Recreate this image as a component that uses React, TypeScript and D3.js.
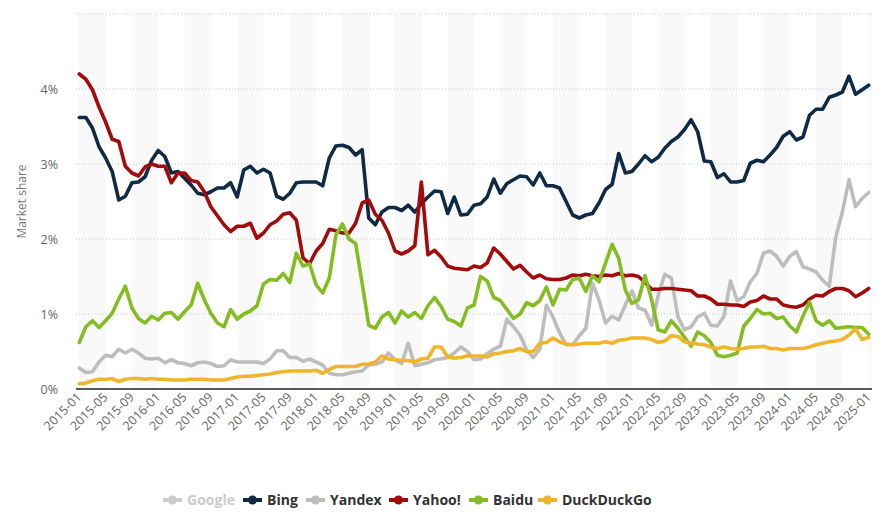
import React from "react";
import * as d3 from "d3";

const months: string[] = d3
  .timeMonth.range(new Date(2015, 0, 1), new Date(2025, 1, 1))
  .map((d) => d3.timeFormat("%Y-%m")(d));

const tickLabels: string[] = months.filter((_, i) => i % 4 === 0);
const yTicks: number[] = [0, 1, 2, 3, 4];
const yGrid: number[] = [1, 2, 3, 4, 5];

const bing: number[] = [
  3.62, 3.62, 3.48, 3.23, 3.08, 2.9, 2.52, 2.57, 2.75, 2.76, 2.83, 3.05, 3.18, 3.1, 2.88, 2.9,
  2.81, 2.72, 2.61, 2.59, 2.63, 2.68, 2.68, 2.75, 2.56, 2.92, 2.97, 2.88, 2.93, 2.88, 2.57, 2.53,
  2.61, 2.75, 2.76, 2.76, 2.76, 2.71, 3.08, 3.24, 3.25, 3.22, 3.12, 3.19, 2.28, 2.19, 2.36, 2.42,
  2.42, 2.38, 2.45, 2.36, 2.47, 2.56, 2.64, 2.63, 2.34, 2.56, 2.32, 2.33, 2.45, 2.47, 2.56, 2.8,
  2.61, 2.74, 2.79, 2.84, 2.83, 2.72, 2.88, 2.71, 2.71, 2.68, 2.5, 2.32, 2.28, 2.32, 2.34, 2.48,
  2.66, 2.73, 3.14, 2.88, 2.9, 3.0, 3.11, 3.03, 3.09, 3.21, 3.3, 3.36, 3.46, 3.59, 3.43, 3.04,
  3.03, 2.82, 2.87, 2.76, 2.76, 2.78, 3.01, 3.05, 3.03, 3.12, 3.22, 3.37, 3.43, 3.32, 3.36, 3.65,
  3.73, 3.73, 3.89, 3.92, 3.96, 4.17, 3.93, 3.99, 4.05,
];

const yandex: number[] = [
  0.28, 0.22, 0.23, 0.36, 0.45, 0.43, 0.53, 0.48, 0.53, 0.48, 0.41, 0.4, 0.41, 0.35, 0.39, 0.35,
  0.34, 0.31, 0.35, 0.36, 0.34, 0.3, 0.31, 0.39, 0.36, 0.36, 0.36, 0.36, 0.34, 0.4, 0.51, 0.51,
  0.42, 0.42, 0.37, 0.4, 0.36, 0.32, 0.21, 0.19, 0.19, 0.21, 0.23, 0.24, 0.32, 0.33, 0.36, 0.48,
  0.39, 0.34, 0.61, 0.31, 0.33, 0.35, 0.39, 0.4, 0.42, 0.48, 0.56, 0.5, 0.39, 0.4, 0.47, 0.53,
  0.57, 0.93, 0.83, 0.72, 0.52, 0.42, 0.53, 1.12, 0.96, 0.75, 0.59, 0.59, 0.71, 0.81, 1.41, 1.19,
  0.88, 0.97, 0.92, 1.12, 1.31, 1.08, 1.05, 0.85, 1.25, 1.53, 1.48, 0.96, 0.79, 0.83, 0.96, 1.01,
  0.85, 0.84, 0.97, 1.44, 1.18, 1.23, 1.43, 1.54, 1.81, 1.84, 1.77, 1.64, 1.77, 1.83, 1.63, 1.6,
  1.56, 1.45, 1.37, 2.03, 2.36, 2.79, 2.43, 2.54, 2.62,
];

const yahoo: number[] = [
  4.2, 4.13, 3.99, 3.76, 3.56, 3.33, 3.3, 2.97, 2.88, 2.84, 2.96, 3.0, 2.97, 2.97, 2.75, 2.88,
  2.88, 2.78, 2.76, 2.63, 2.43, 2.31, 2.19, 2.1, 2.17, 2.17, 2.21, 2.01, 2.08, 2.19, 2.24, 2.33,
  2.35, 2.25, 1.75, 1.67, 1.84, 1.94, 2.13, 2.11, 2.08, 2.08, 2.21, 2.48, 2.52, 2.33, 2.25, 2.08,
  1.84, 1.8, 1.84, 1.91, 2.76, 1.79, 1.85, 1.76, 1.64, 1.61, 1.6, 1.59, 1.64, 1.62, 1.68, 1.88,
  1.8, 1.7, 1.6, 1.65, 1.56, 1.48, 1.52, 1.47, 1.46, 1.46, 1.48, 1.52, 1.51, 1.53, 1.51, 1.5,
  1.52, 1.51, 1.54, 1.51, 1.52, 1.5, 1.42, 1.33, 1.33, 1.34, 1.34, 1.33, 1.32, 1.31, 1.24, 1.24,
  1.2, 1.13, 1.13, 1.12, 1.12, 1.1, 1.16, 1.18, 1.24, 1.2, 1.2, 1.12, 1.1, 1.09, 1.12, 1.2,
  1.25, 1.24, 1.3, 1.34, 1.34, 1.31, 1.23, 1.28, 1.34,
];

const baidu: number[] = [
  0.62, 0.83, 0.91, 0.82, 0.91, 1.01, 1.2, 1.37, 1.08, 0.94, 0.88, 0.97, 0.92, 1.01, 1.02, 0.93,
  1.03, 1.12, 1.41, 1.19, 1.01, 0.88, 0.83, 1.06, 0.93, 1.0, 1.04, 1.11, 1.4, 1.46, 1.45, 1.54,
  1.42, 1.81, 1.64, 1.67, 1.39, 1.28, 1.48, 2.05, 2.2, 2.0, 1.94, 1.41, 0.85, 0.81, 0.96, 1.02,
  0.88, 1.04, 0.96, 1.02, 0.94, 1.11, 1.22, 1.1, 0.93, 0.9, 0.84, 1.08, 1.12, 1.5, 1.44, 1.22,
  1.18, 1.06, 0.94, 1.0, 1.15, 1.11, 1.18, 1.36, 1.12, 1.33, 1.32, 1.46, 1.48, 1.3, 1.51, 1.43,
  1.68, 1.93, 1.74, 1.32, 1.14, 1.19, 1.51, 1.19, 0.79, 0.76, 0.91, 0.81, 0.69, 0.57, 0.76, 0.71,
  0.62, 0.45, 0.43, 0.45, 0.48, 0.84, 0.94, 1.06, 1.0, 1.01, 0.94, 0.96, 0.84, 0.76, 0.97, 1.16,
  0.91, 0.85, 0.91, 0.81, 0.82, 0.83, 0.82, 0.82, 0.73,
];

const duckduckgo: number[] = [
  0.07, 0.08, 0.11, 0.13, 0.13, 0.14, 0.1, 0.13, 0.14, 0.14, 0.13, 0.14, 0.13, 0.13, 0.12, 0.12,
  0.12, 0.13, 0.13, 0.13, 0.12, 0.12, 0.12, 0.14, 0.16, 0.17, 0.17, 0.18, 0.19, 0.2, 0.22, 0.23,
  0.24, 0.24, 0.24, 0.24, 0.25, 0.21, 0.26, 0.3, 0.3, 0.3, 0.3, 0.33, 0.33, 0.36, 0.44, 0.4,
  0.39, 0.38, 0.38, 0.36, 0.4, 0.41, 0.56, 0.56, 0.43, 0.41, 0.42, 0.44, 0.44, 0.44, 0.43, 0.47,
  0.48, 0.5, 0.51, 0.54, 0.5, 0.5, 0.61, 0.62, 0.68, 0.63, 0.6, 0.59, 0.6, 0.61, 0.61, 0.61,
  0.63, 0.61, 0.65, 0.66, 0.68, 0.68, 0.68, 0.66, 0.62, 0.64, 0.71, 0.7, 0.63, 0.61, 0.6, 0.59,
  0.56, 0.54, 0.56, 0.54, 0.53, 0.54, 0.56, 0.56, 0.57, 0.54, 0.54, 0.52, 0.54, 0.54, 0.54, 0.56,
  0.59, 0.61, 0.63, 0.64, 0.66, 0.72, 0.8, 0.66, 0.69,
];

const seriesNames: string[] = ["Google", "Bing", "Yandex", "Yahoo!", "Baidu", "DuckDuckGo"];
const seriesColors: string[] = ["#cccccc", "#0f2a44", "#bdbdbd", "#a30b0b", "#84bd22", "#f0b52a"];
const seriesData: (number[] | null)[] = [null, bing, yandex, yahoo, baidu, duckduckgo];
const seriesVisible: boolean[] = [false, true, true, true, true, true];

const W = 883;
const H = 520;
const left = 76;
const right = 872;
const top = 14;
const bottom = 389;
const FONT = "'Open Sans', 'DejaVu Sans', sans-serif";

export default function App() {
  const x = d3.scalePoint<string>().domain(months).range([left, right]).padding(0.5);
  const y = d3.scaleLinear().domain([0, 5]).range([bottom, top]);
  const line = d3
    .line<number>()
    .x((_, i) => x(months[i]) as number)
    .y((v) => y(v))
    .curve(d3.curveLinear);

  const bands: { x0: number; x1: number }[] = [];
  for (let i = 0; i < months.length; i += 8) {
    const x0 = x(months[i]) as number;
    const j = Math.min(i + 4, months.length - 1);
    const x1 = i + 4 < months.length ? (x(months[j]) as number) : right;
    bands.push({ x0, x1 });
  }

  const legendX = [163, 243, 306, 389, 469, 538];

  return (
    <svg
      width={W}
      height={H}
      style={{ position: "absolute", left: 0, top: 0, background: "#fff" }}
      fontFamily={FONT}
    >
      {bands.map((b, i) => (
        <rect key={i} x={b.x0} y={top} width={b.x1 - b.x0} height={bottom - top} fill="#f9f9f9" />
      ))}
      {yGrid.map((t) => (
        <line
          key={t}
          x1={left}
          x2={right}
          y1={y(t)}
          y2={y(t)}
          stroke="#c8c8c8"
          strokeWidth={1}
          strokeDasharray="1,2"
        />
      ))}
      {yTicks.map((t) => (
        <text key={t} x={58} y={y(t) + 4.5} textAnchor="end" fontSize={12.5} fill="#666">
          {t}%
        </text>
      ))}
      <text
        transform={`translate(26,${(top + bottom) / 2}) rotate(-90)`}
        textAnchor="middle"
        fontSize={12}
        fill="#777"
      >
        Market share
      </text>
      {seriesData.map((d, k) =>
        d && seriesVisible[k] ? (
          <path
            key={k}
            d={line(d) || ""}
            fill="none"
            stroke={seriesColors[k]}
            strokeWidth={3.6}
            strokeLinejoin="round"
            strokeLinecap="round"
          />
        ) : null
      )}
      <line x1={left} x2={right} y1={bottom} y2={bottom} stroke="#222" strokeWidth={1.3} />
      {tickLabels.map((m) => {
        const tx = (x(m) as number) + 3;
        const ty = bottom + 9;
        return (
          <text
            key={m}
            transform={`translate(${tx},${ty}) rotate(-45)`}
            textAnchor="end"
            fontSize={12.5}
            fill="#666"
          >
            {m}
          </text>
        );
      })}
      {seriesNames.map((n, k) => (
        <g key={n} transform={`translate(${legendX[k]},500)`}>
          <line x1={0} x2={19} y1={0} y2={0} stroke={seriesVisible[k] ? seriesColors[k] : "#cccccc"} strokeWidth={4} />
          <circle cx={9.5} cy={0} r={4.5} fill={seriesVisible[k] ? seriesColors[k] : "#cccccc"} />
          <text x={24} y={5} fontSize={14} fontWeight="bold" fill={seriesVisible[k] ? "#333" : "#cccccc"}>
            {n}
          </text>
        </g>
      ))}
    </svg>
  );
}
